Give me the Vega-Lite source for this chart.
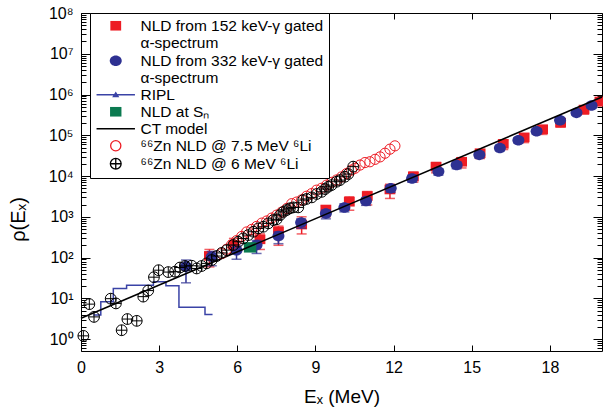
{
  "$schema": "https://vega.github.io/schema/vega-lite/v6.json",
  "width": 521,
  "height": 338,
  "autosize": "none",
  "padding": {"left": 81, "top": 13, "right": 1, "bottom": 63},
  "background": "white",
  "config": {
    "view": {"stroke": null},
    "font": "Liberation Sans",
    "axis": {
      "grid": false,
      "domainColor": "black",
      "domainWidth": 1,
      "tickColor": "black",
      "tickWidth": 1,
      "labelColor": "black",
      "titleColor": "black",
      "labelFont": "Liberation Sans",
      "titleFont": "Liberation Sans",
      "labelFontSize": 16,
      "titleFontWeight": "normal",
      "labelFlush": false,
      "labelOverlap": false
    },
    "legend": {
      "orient": "none",
      "legendX": 9,
      "legendY": 0,
      "fillColor": "white",
      "strokeColor": "black",
      "padding": 5,
      "symbolSize": 144,
      "symbolOffset": 13,
      "symbolStrokeWidth": 1.3,
      "symbolOpacity": 1,
      "labelOffset": 17,
      "labelFont": "Liberation Sans",
      "labelFontSize": 15.5,
      "labelColor": "black",
      "labelLimit": 0,
      "rowPadding": 0
    }
  },
  "datasets": {
    "red152": [
      {"E": 4.93, "rho": 110, "lo": 59, "hi": 158},
      {"E": 5.87, "rho": 204, "lo": 126, "hi": 295},
      {"E": 6.87, "rho": 280, "lo": 158, "hi": 380},
      {"E": 7.58, "rho": 436, "lo": 200, "hi": 590},
      {"E": 8.47, "rho": 645, "lo": 380, "hi": 1000},
      {"E": 9.40, "rho": 1510, "lo": 1000, "hi": 1860},
      {"E": 10.30, "rho": 2340, "lo": 1450, "hi": 3100},
      {"E": 10.99, "rho": 3240, "lo": 1950, "hi": 4170},
      {"E": 11.86, "rho": 4680, "lo": 2820, "hi": 6300},
      {"E": 12.76, "rho": 9770, "lo": 7080, "hi": 12600},
      {"E": 13.63, "rho": 17000, "lo": 12000, "hi": 21400},
      {"E": 14.61, "rho": 22400, "lo": 15800, "hi": 28200},
      {"E": 15.32, "rho": 36300, "lo": 26900, "hi": 43700},
      {"E": 16.21, "rho": 61700, "lo": 44700, "hi": 75900},
      {"E": 17.01, "rho": 89000, "lo": 66100, "hi": 107000},
      {"E": 17.72, "rho": 141000, "lo": 105000, "hi": 166000},
      {"E": 18.41, "rho": 204000, "lo": 158000, "hi": 251000},
      {"E": 19.31, "rho": 427000, "lo": 331000, "hi": 501000},
      {"E": 19.92, "rho": 676000, "lo": 525000, "hi": 794000}
    ],
    "blue332": [
      {"E": 4.03, "rho": 60, "lo": 24, "hi": 87},
      {"E": 5.02, "rho": 105, "lo": 63, "hi": 141},
      {"E": 5.97, "rho": 151, "lo": 91, "hi": 200},
      {"E": 6.74, "rho": 204, "lo": 126, "hi": 263},
      {"E": 7.58, "rho": 339, "lo": 219, "hi": 427},
      {"E": 8.45, "rho": 724, "lo": 525, "hi": 891},
      {"E": 9.40, "rho": 1200, "lo": 891, "hi": 1450},
      {"E": 10.11, "rho": 1700, "lo": 1320, "hi": 2090},
      {"E": 10.94, "rho": 2450, "lo": 1910, "hi": 2950},
      {"E": 11.89, "rho": 5000, "lo": 3980, "hi": 6030},
      {"E": 12.71, "rho": 8700, "lo": 7080, "hi": 10500},
      {"E": 13.72, "rho": 12900, "lo": 10500, "hi": 15100},
      {"E": 14.42, "rho": 18600, "lo": 15100, "hi": 21900},
      {"E": 15.29, "rho": 33100, "lo": 27500, "hi": 38000},
      {"E": 16.08, "rho": 49000, "lo": 41700, "hi": 56200},
      {"E": 16.79, "rho": 75900, "lo": 64600, "hi": 87100},
      {"E": 17.49, "rho": 126000, "lo": 107000, "hi": 141000},
      {"E": 18.39, "rho": 234000, "lo": 200000, "hi": 263000},
      {"E": 19.02, "rho": 355000, "lo": 309000, "hi": 398000},
      {"E": 19.60, "rho": 537000, "lo": 468000, "hi": 603000}
    ],
    "ripl": [
      {"E": 0.47, "rho": 3.9},
      {"E": 0.76, "rho": 8.2},
      {"E": 1.24, "rho": 17.5},
      {"E": 1.75, "rho": 21},
      {"E": 2.78, "rho": 25.5},
      {"E": 3.26, "rho": 20.4},
      {"E": 3.76, "rho": 6.0},
      {"E": 4.76, "rho": 4.0},
      {"E": 5.05, "rho": 4.0}
    ],
    "sn": [{"E": 6.49, "rho": 178}],
    "ct": [{"E": 0, "rho": 3.25}, {"E": 20, "rho": 870000}],
    "zn75": [
      {"E": 5.40, "rho": 125}, {"E": 5.59, "rho": 160}, {"E": 5.78, "rho": 205},
      {"E": 5.97, "rho": 260}, {"E": 6.17, "rho": 330}, {"E": 6.36, "rho": 425},
      {"E": 6.55, "rho": 490}, {"E": 6.74, "rho": 580}, {"E": 6.94, "rho": 700},
      {"E": 7.13, "rho": 790}, {"E": 7.32, "rho": 930}, {"E": 7.51, "rho": 1100},
      {"E": 7.70, "rho": 1300}, {"E": 7.90, "rho": 1600}, {"E": 8.09, "rho": 2100},
      {"E": 8.28, "rho": 2300}, {"E": 8.47, "rho": 2600}, {"E": 8.66, "rho": 3200},
      {"E": 8.85, "rho": 3700}, {"E": 9.04, "rho": 4500}, {"E": 9.23, "rho": 5000},
      {"E": 9.43, "rho": 6000}, {"E": 9.62, "rho": 7000}, {"E": 9.81, "rho": 8000},
      {"E": 10.00, "rho": 9500}, {"E": 10.19, "rho": 11500}, {"E": 10.38, "rho": 14000},
      {"E": 10.52, "rho": 15500}, {"E": 10.71, "rho": 18600}, {"E": 10.90, "rho": 21400},
      {"E": 11.09, "rho": 22400}, {"E": 11.29, "rho": 25700}, {"E": 11.48, "rho": 29500},
      {"E": 11.67, "rho": 36300}, {"E": 11.86, "rho": 45700}, {"E": 12.05, "rho": 55000}
    ],
    "zn6": [
      {"E": 0.09, "rho": 1.2}, {"E": 0.32, "rho": 7.2}, {"E": 0.50, "rho": 3.5},
      {"E": 1.14, "rho": 9.8}, {"E": 1.34, "rho": 7.5}, {"E": 1.56, "rho": 1.65},
      {"E": 1.78, "rho": 3.1}, {"E": 2.14, "rho": 2.8}, {"E": 2.39, "rho": 11},
      {"E": 2.58, "rho": 15.5}, {"E": 2.80, "rho": 33}, {"E": 2.98, "rho": 49},
      {"E": 3.35, "rho": 44}, {"E": 3.61, "rho": 45}, {"E": 3.80, "rho": 57},
      {"E": 3.99, "rho": 62}, {"E": 4.25, "rho": 63}, {"E": 4.44, "rho": 54},
      {"E": 4.63, "rho": 62}, {"E": 4.82, "rho": 72}, {"E": 5.02, "rho": 87},
      {"E": 5.21, "rho": 109}, {"E": 5.40, "rho": 130}, {"E": 5.59, "rho": 152},
      {"E": 5.85, "rho": 203}, {"E": 6.04, "rho": 245}, {"E": 6.23, "rho": 295},
      {"E": 6.42, "rho": 356}, {"E": 6.62, "rho": 430}, {"E": 6.81, "rho": 520},
      {"E": 7.00, "rho": 570}, {"E": 7.19, "rho": 690}, {"E": 7.38, "rho": 830},
      {"E": 7.51, "rho": 870}, {"E": 7.64, "rho": 1100}, {"E": 7.77, "rho": 1320},
      {"E": 7.90, "rho": 1470}, {"E": 8.02, "rho": 1620}, {"E": 8.15, "rho": 1700},
      {"E": 8.34, "rho": 1700}, {"E": 8.53, "rho": 2570}, {"E": 8.66, "rho": 2740},
      {"E": 8.86, "rho": 3000}, {"E": 9.05, "rho": 3630}, {"E": 9.24, "rho": 4100},
      {"E": 9.37, "rho": 4800}, {"E": 9.49, "rho": 5450}, {"E": 9.62, "rho": 6000},
      {"E": 9.81, "rho": 7250}, {"E": 9.94, "rho": 7950}, {"E": 10.13, "rho": 9600},
      {"E": 10.26, "rho": 11200}, {"E": 10.45, "rho": 17000}
    ]
  },
  "resolve": {"axis": {"x": "independent", "y": "independent"}},
  "layer": [
    {
      "data": {"name": "ripl"},
      "mark": {"type": "line", "interpolate": "step-after", "strokeWidth": 1.5},
      "encoding": {
        "x": {
          "field": "E", "type": "quantitative",
          "scale": {"domain": [0, 20], "nice": false, "zero": false},
          "axis": {
            "orient": "bottom",
            "values": [0, 3, 6, 9, 12, 15, 18],
            "tickSize": -6,
            "labelPadding": 14,
            "title": "Eₓ (MeV)",
            "titleFontSize": 19,
            "titleBaseline": "alphabetic",
            "titleY": 51
          }
        },
        "y": {
          "field": "rho", "type": "quantitative",
          "scale": {"type": "log", "domain": [0.51, 100000000], "nice": false},
          "axis": {
            "orient": "left",
            "values": [0.6, 0.7, 0.8, 0.9, 1, 2, 3, 4, 5, 6, 7, 8, 9, 10, 20, 30, 40, 50, 60, 70, 80, 90, 100, 200, 300, 400, 500, 600, 700, 800, 900, 1000, 2000, 3000, 4000, 5000, 6000, 7000, 8000, 9000, 10000, 20000, 30000, 40000, 50000, 60000, 70000, 80000, 90000, 100000, 200000, 300000, 400000, 500000, 600000, 700000, 800000, 900000, 1000000, 2000000, 3000000, 4000000, 5000000, 6000000, 7000000, 8000000, 9000000, 10000000, 20000000, 30000000, 40000000, 50000000, 60000000, 70000000, 80000000, 90000000, 100000000],
            "tickSize": {"condition": {"test": "indexof([1,10,100,1000,10000,100000,1000000,10000000,100000000], datum.value) >= 0", "value": -9}, "value": -5},
            "labelPadding": 17,
            "labelExpr": "indexof([1,10,100,1000,10000,100000,1000000,10000000,100000000], datum.value) >= 0 ? '10' + ['⁰','¹','²','³','⁴','⁵','⁶','⁷','⁸'][round(log(datum.value)/LN10)] : ''",
            "title": "ρ(Eₓ)",
            "titleFontSize": 20,
            "titleBaseline": "alphabetic",
            "titleAlign": "center",
            "titleX": -57,
            "titleY": 206
          }
        },
        "stroke": {
          "datum": "RIPL",
          "scale": {
            "domain": ["NLD from 152 keV-γ gated α-spectrum", "NLD from 332 keV-γ gated α-spectrum", "RIPL", "NLD at Sₙ", "CT model", "⁶⁶Zn NLD @ 7.5 MeV ⁶Li", "⁶⁶Zn NLD @ 6 MeV ⁶Li"],
            "range": ["transparent", "transparent", "#3A43A6", "transparent", "#000000", "#ED1C24", "#000000"]
          },
          "legend": {
            "title": null,
            "labelExpr": "test(/gated/, datum.label) ? [replace(datum.label, / α-spectrum/, ''), 'α-spectrum'] : datum.label"
          }
        }
      }
    },
    {
      "data": {"name": "red152"},
      "mark": {"type": "errorbar", "color": "#ED1C24", "ticks": {"size": 10, "thickness": 1.5}, "thickness": 1.5},
      "encoding": {
        "x": {"field": "E", "type": "quantitative", "axis": null},
        "y": {"field": "lo", "type": "quantitative", "axis": null},
        "y2": {"field": "hi"}
      }
    },
    {
      "data": {"name": "red152"},
      "mark": {"type": "point", "size": 144, "opacity": 1, "strokeWidth": 1},
      "encoding": {
        "x": {"field": "E", "type": "quantitative", "axis": null},
        "y": {"field": "rho", "type": "quantitative", "axis": null},
        "fill": {
          "datum": "NLD from 152 keV-γ gated α-spectrum",
          "scale": {
            "domain": ["NLD from 152 keV-γ gated α-spectrum", "NLD from 332 keV-γ gated α-spectrum", "RIPL", "NLD at Sₙ", "CT model", "⁶⁶Zn NLD @ 7.5 MeV ⁶Li", "⁶⁶Zn NLD @ 6 MeV ⁶Li"],
            "range": ["#ED1C24", "#2E3192", "#3A43A6", "#0B7A50", "transparent", "transparent", "transparent"]
          },
          "legend": {
            "title": null,
            "labelExpr": "test(/gated/, datum.label) ? [replace(datum.label, / α-spectrum/, ''), 'α-spectrum'] : datum.label"
          }
        },
        "stroke": {"datum": "NLD from 152 keV-γ gated α-spectrum"},
        "shape": {
          "datum": "NLD from 152 keV-γ gated α-spectrum",
          "scale": {
            "domain": ["NLD from 152 keV-γ gated α-spectrum", "NLD from 332 keV-γ gated α-spectrum", "RIPL", "NLD at Sₙ", "CT model", "⁶⁶Zn NLD @ 7.5 MeV ⁶Li", "⁶⁶Zn NLD @ 6 MeV ⁶Li"],
            "range": [
              "M-0.9,-0.8H0.9V0.8H-0.9Z",
              "M-1,0A1,0.88,0,1,1,1,0A1,0.88,0,1,1,-1,0Z",
              "M-3.2,0L3.2,0M-0.4,0.32L0,-0.32L0.4,0.32Z",
              "M-0.95,-0.8H0.95V0.8H-0.95Z",
              "M-3.2,0L3.2,0",
              "M-0.85,0A0.85,0.85,0,1,1,0.85,0A0.85,0.85,0,1,1,-0.85,0Z",
              "M-0.9,0A0.9,0.9,0,1,1,0.9,0A0.9,0.9,0,1,1,-0.9,0ZM-0.9,0L0.9,0M0,-0.9L0,0.9"
            ]
          },
          "legend": {
            "title": null,
            "labelExpr": "test(/gated/, datum.label) ? [replace(datum.label, / α-spectrum/, ''), 'α-spectrum'] : datum.label"
          }
        }
      }
    },
    {
      "data": {"name": "blue332"},
      "mark": {"type": "errorbar", "color": "#2E3192", "ticks": {"size": 10, "thickness": 1.5}, "thickness": 1.5},
      "encoding": {
        "x": {"field": "E", "type": "quantitative", "axis": null},
        "y": {"field": "lo", "type": "quantitative", "axis": null},
        "y2": {"field": "hi"}
      }
    },
    {
      "data": {"name": "blue332"},
      "mark": {"type": "point", "size": 144, "opacity": 1, "strokeWidth": 1},
      "encoding": {
        "x": {"field": "E", "type": "quantitative", "axis": null},
        "y": {"field": "rho", "type": "quantitative", "axis": null},
        "fill": {"datum": "NLD from 332 keV-γ gated α-spectrum"},
        "stroke": {"datum": "NLD from 332 keV-γ gated α-spectrum"},
        "shape": {"datum": "NLD from 332 keV-γ gated α-spectrum"}
      }
    },
    {
      "data": {"name": "sn"},
      "mark": {"type": "point", "size": 170, "opacity": 1, "strokeWidth": 1},
      "encoding": {
        "x": {"field": "E", "type": "quantitative", "axis": null},
        "y": {"field": "rho", "type": "quantitative", "axis": null},
        "fill": {"datum": "NLD at Sₙ"},
        "stroke": {"datum": "NLD at Sₙ"},
        "shape": {"datum": "NLD at Sₙ"}
      }
    },
    {
      "data": {"name": "ct"},
      "mark": {"type": "line", "strokeWidth": 1.6},
      "encoding": {
        "x": {
          "field": "E", "type": "quantitative",
          "axis": {"orient": "top", "values": [0, 3, 6, 9, 12, 15, 18], "tickSize": -6, "labels": false, "title": null}
        },
        "y": {
          "field": "rho", "type": "quantitative",
          "axis": {
            "orient": "right",
            "values": [0.6, 0.7, 0.8, 0.9, 1, 2, 3, 4, 5, 6, 7, 8, 9, 10, 20, 30, 40, 50, 60, 70, 80, 90, 100, 200, 300, 400, 500, 600, 700, 800, 900, 1000, 2000, 3000, 4000, 5000, 6000, 7000, 8000, 9000, 10000, 20000, 30000, 40000, 50000, 60000, 70000, 80000, 90000, 100000, 200000, 300000, 400000, 500000, 600000, 700000, 800000, 900000, 1000000, 2000000, 3000000, 4000000, 5000000, 6000000, 7000000, 8000000, 9000000, 10000000, 20000000, 30000000, 40000000, 50000000, 60000000, 70000000, 80000000, 90000000, 100000000],
            "tickSize": {"condition": {"test": "indexof([1,10,100,1000,10000,100000,1000000,10000000,100000000], datum.value) >= 0", "value": -9}, "value": -5},
            "labels": false,
            "title": null
          }
        },
        "stroke": {"datum": "CT model"}
      }
    },
    {
      "data": {"name": "zn75"},
      "mark": {"type": "point", "size": 144, "strokeWidth": 1, "opacity": 1},
      "encoding": {
        "x": {"field": "E", "type": "quantitative", "axis": null},
        "y": {"field": "rho", "type": "quantitative", "axis": null},
        "fill": {"datum": "⁶⁶Zn NLD @ 7.5 MeV ⁶Li"},
        "stroke": {"datum": "⁶⁶Zn NLD @ 7.5 MeV ⁶Li"},
        "shape": {"datum": "⁶⁶Zn NLD @ 7.5 MeV ⁶Li"}
      }
    },
    {
      "data": {"name": "zn6"},
      "mark": {"type": "point", "size": 144, "strokeWidth": 1, "opacity": 1},
      "encoding": {
        "x": {"field": "E", "type": "quantitative", "axis": null},
        "y": {"field": "rho", "type": "quantitative", "axis": null},
        "fill": {"datum": "⁶⁶Zn NLD @ 6 MeV ⁶Li"},
        "stroke": {"datum": "⁶⁶Zn NLD @ 6 MeV ⁶Li"},
        "shape": {"datum": "⁶⁶Zn NLD @ 6 MeV ⁶Li"}
      }
    }
  ]
}
